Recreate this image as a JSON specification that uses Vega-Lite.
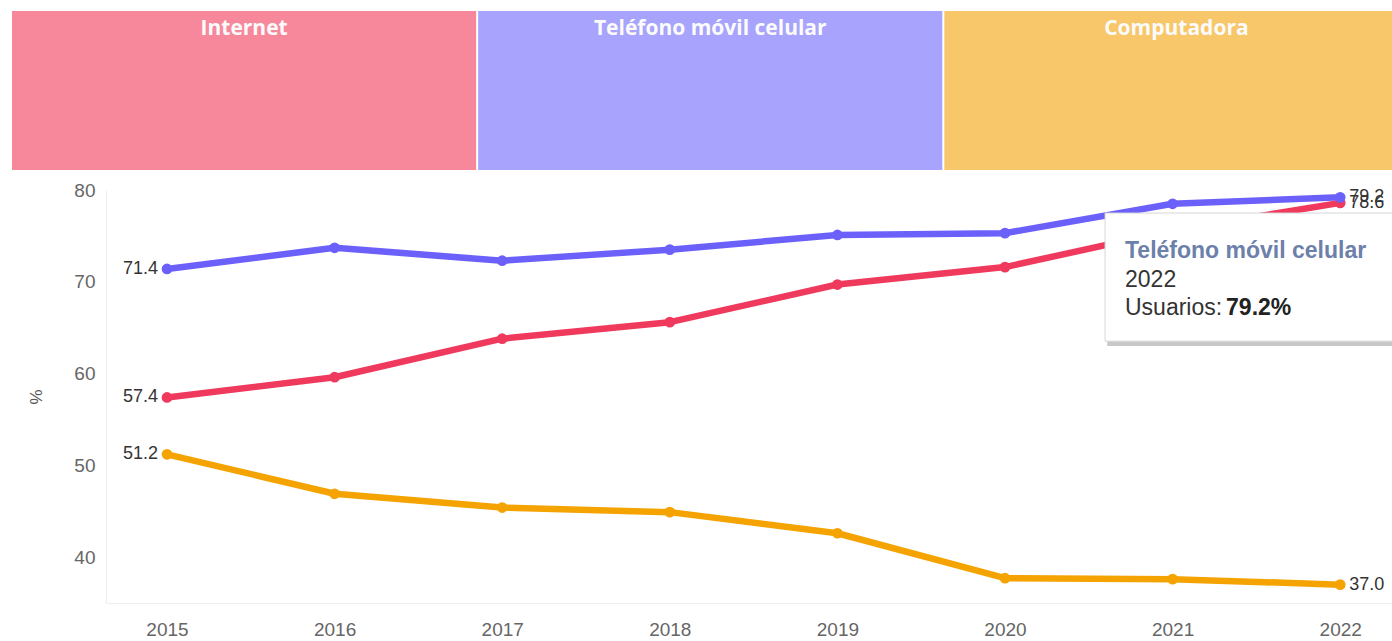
{
  "$schema": "https://vega.github.io/schema/vega-lite/v6.json",
  "width": 1286,
  "height": 413,
  "autosize": {"type": "none"},
  "padding": {"left": 106, "top": 190, "right": 0, "bottom": 38},
  "background": "white",
  "config": {"view": {"stroke": null}, "font": "Liberation Sans"},
  "datasets": {
    "cabecera": [
      {"serie": "Internet"},
      {"serie": "Teléfono móvil celular"},
      {"serie": "Computadora"}
    ],
    "lineas": [
      {"year": 2015, "serie": "Internet", "valor": 57.4},
      {"year": 2016, "serie": "Internet", "valor": 59.6},
      {"year": 2017, "serie": "Internet", "valor": 63.8},
      {"year": 2018, "serie": "Internet", "valor": 65.6},
      {"year": 2019, "serie": "Internet", "valor": 69.7},
      {"year": 2020, "serie": "Internet", "valor": 71.6},
      {"year": 2021, "serie": "Internet", "valor": 75.6},
      {"year": 2022, "serie": "Internet", "valor": 78.6},
      {"year": 2015, "serie": "Teléfono móvil celular", "valor": 71.4},
      {"year": 2016, "serie": "Teléfono móvil celular", "valor": 73.7},
      {"year": 2017, "serie": "Teléfono móvil celular", "valor": 72.3},
      {"year": 2018, "serie": "Teléfono móvil celular", "valor": 73.5},
      {"year": 2019, "serie": "Teléfono móvil celular", "valor": 75.1},
      {"year": 2020, "serie": "Teléfono móvil celular", "valor": 75.3},
      {"year": 2021, "serie": "Teléfono móvil celular", "valor": 78.5},
      {"year": 2022, "serie": "Teléfono móvil celular", "valor": 79.2},
      {"year": 2015, "serie": "Computadora", "valor": 51.2},
      {"year": 2016, "serie": "Computadora", "valor": 46.9},
      {"year": 2017, "serie": "Computadora", "valor": 45.4},
      {"year": 2018, "serie": "Computadora", "valor": 44.9},
      {"year": 2019, "serie": "Computadora", "valor": 42.6},
      {"year": 2020, "serie": "Computadora", "valor": 37.7},
      {"year": 2021, "serie": "Computadora", "valor": 37.6},
      {"year": 2022, "serie": "Computadora", "valor": 37.0}
    ],
    "caja": [
      {"year": 2020.597, "year2": 2022.5, "valor": 77.49, "valor2": 63.53}
    ],
    "sombra": [
      {"year": 2020.61, "year2": 2022.5, "valor": 77.2, "valor2": 63.0}
    ],
    "tip_titulo": [{"year": 2020.716, "valor": 72.58, "t": "Teléfono móvil celular"}],
    "tip_texto": [
      {"year": 2020.716, "valor": 69.46, "t": "2022"},
      {"year": 2020.716, "valor": 66.37, "t": "Usuarios:"}
    ],
    "tip_valor": [{"year": 2021.319, "valor": 66.37, "t": "79.2%"}]
  },
  "layer": [
    {
      "data": {"name": "cabecera"},
      "encoding": {
        "x": {
          "field": "serie",
          "type": "nominal",
          "sort": null,
          "scale": {"range": [-94, 1302.5], "paddingInner": 0.0043, "paddingOuter": 0},
          "axis": null
        },
        "y": {
          "datum": "banda",
          "type": "nominal",
          "scale": {"range": [-179, -20], "paddingInner": 0, "paddingOuter": 0},
          "axis": null
        }
      },
      "layer": [
        {
          "mark": {"type": "rect"},
          "encoding": {
            "fill": {
              "field": "serie",
              "type": "nominal",
              "scale": {
                "domain": ["Internet", "Teléfono móvil celular", "Computadora"],
                "range": ["#f7889b", "#a8a4fd", "#f7c76a"]
              },
              "legend": null
            }
          }
        },
        {
          "mark": {
            "type": "text",
            "font": "Open Sans",
            "fontWeight": "bold",
            "fontSize": 21,
            "color": "#fbfbfb",
            "baseline": "alphabetic",
            "dy": -56
          },
          "encoding": {"text": {"field": "serie"}}
        }
      ]
    },
    {
      "data": {"name": "lineas"},
      "encoding": {
        "x": {
          "field": "year",
          "type": "quantitative",
          "scale": {"domain": [2014.636, 2022.309], "nice": false, "zero": false},
          "axis": {
            "values": [2015, 2016, 2017, 2018, 2019, 2020, 2021, 2022],
            "format": "d",
            "grid": false,
            "ticks": false,
            "domainColor": "#eeeeee",
            "labelFontSize": 19,
            "labelColor": "#666666",
            "labelPadding": 17,
            "title": null
          }
        },
        "y": {
          "field": "valor",
          "type": "quantitative",
          "scale": {"domain": [35, 80], "nice": false, "zero": false},
          "axis": {
            "values": [40, 50, 60, 70, 80],
            "gridColor": "#efefef",
            "ticks": false,
            "domainColor": "#eeeeee",
            "labelFontSize": 19,
            "labelColor": "#666666",
            "labelPadding": 11,
            "title": "%",
            "titleFontSize": 17,
            "titleFontWeight": "normal",
            "titleColor": "#555555",
            "titlePadding": 28
          }
        },
        "color": {
          "field": "serie",
          "type": "nominal",
          "scale": {
            "domain": ["Internet", "Teléfono móvil celular", "Computadora"],
            "range": ["#ef3a5d", "#6c60fb", "#f4a300"]
          },
          "legend": null
        }
      },
      "layer": [
        {"mark": {"type": "line", "strokeWidth": 6.5, "strokeCap": "round", "strokeJoin": "round"}},
        {"mark": {"type": "circle", "size": 115, "opacity": 1}},
        {
          "transform": [{"filter": "datum.year == 2015"}],
          "mark": {"type": "text", "align": "right", "baseline": "middle", "dx": -9, "fontSize": 18, "color": "#333333"},
          "encoding": {"text": {"field": "valor", "type": "quantitative", "format": ".1f"}, "color": {"value": "#333333"}}
        },
        {
          "transform": [{"filter": "datum.year == 2022"}],
          "mark": {"type": "text", "align": "left", "baseline": "middle", "dx": 9, "fontSize": 18, "color": "#333333"},
          "encoding": {"text": {"field": "valor", "type": "quantitative", "format": ".1f"}, "color": {"value": "#333333"}}
        },
        {
          "data": {"name": "sombra"},
          "mark": {"type": "rect", "fill": "#b0b0b0", "opacity": 0.7},
          "encoding": {"x2": {"field": "year2"}, "y2": {"field": "valor2"}, "color": {"value": "#b0b0b0"}}
        },
        {
          "data": {"name": "caja"},
          "mark": {"type": "rect", "fill": "white", "stroke": "#d6d6d6", "strokeWidth": 1},
          "encoding": {"x2": {"field": "year2"}, "y2": {"field": "valor2"}, "color": {"value": "white"}}
        },
        {
          "data": {"name": "tip_titulo"},
          "mark": {"type": "text", "align": "left", "baseline": "alphabetic", "fontSize": 23, "fontWeight": "bold"},
          "encoding": {"text": {"field": "t"}, "color": {"value": "#6c80aa"}}
        },
        {
          "data": {"name": "tip_texto"},
          "mark": {"type": "text", "align": "left", "baseline": "alphabetic", "fontSize": 23},
          "encoding": {"text": {"field": "t"}, "color": {"value": "#333333"}}
        },
        {
          "data": {"name": "tip_valor"},
          "mark": {"type": "text", "align": "left", "baseline": "alphabetic", "fontSize": 23, "fontWeight": "bold"},
          "encoding": {"text": {"field": "t"}, "color": {"value": "#222222"}}
        }
      ]
    }
  ],
  "resolve": {"scale": {"x": "independent", "y": "independent", "color": "independent", "fill": "independent"}}
}
